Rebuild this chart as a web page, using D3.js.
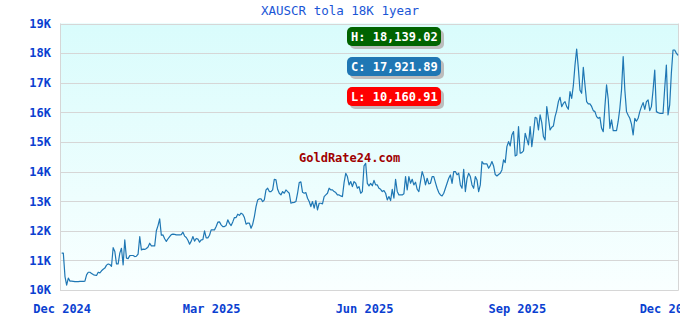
<!DOCTYPE html>
<html>
<head>
<meta charset="utf-8">
<script src="https://cdn.jsdelivr.net/npm/d3@7"></script>
<style>
  body { margin: 0; background: #fff; }
  svg { display: block; }
</style>
</head>
<body>
<div id="chart"></div>
<script>
// daily close, one value per day starting at firstDay
const firstDay = '2024-12-01';
const prices = [
  11245, 11245, 10455, 10161, 10400, 10300, 10300, 10290, 10280, 10280,
  10280, 10290, 10290, 10290, 10300, 10510, 10600, 10600, 10560, 10520,
  10500, 10490, 10600, 10580, 10650, 10700, 10740, 10840, 10880, 10860,
  10800, 11430, 11300, 10880, 10880, 11245, 11410, 10850, 11690, 11075,
  11060, 11160, 11165, 11165, 11130, 11140, 11210, 11800, 11355, 11380,
  11370, 11400, 11450, 11580, 11490, 11490, 11490, 12000, 12175, 12400,
  11850, 11860, 11730, 11640, 11730, 11800, 11870, 11885, 11880, 11862,
  11862, 11862, 11870, 11953, 11820, 11771, 11680, 11548, 11650, 11805,
  11650, 11740, 11720, 11616, 11690, 11700, 11997, 11760, 11760, 11850,
  12030, 12030, 12030, 12142, 12290, 12300, 12200, 12142, 12142, 12180,
  12368, 12250, 12175, 12300, 12446, 12446, 12560, 12520, 12593, 12560,
  12446, 12222, 12260, 12260, 12087, 12222, 12480, 12817, 13043, 13080,
  13080, 12986, 13043, 13380, 13437, 13324, 13324, 13380, 13740, 13718,
  13400, 13268, 13212, 13324, 13268, 13380, 13324, 13268, 12930, 12953,
  12960, 12987, 13268, 13628, 13650, 13300, 13268, 13290, 13100, 12987,
  12818, 12987, 12762, 13020, 12705, 12930, 12930, 12908, 13155, 13212,
  13268, 13437, 13380, 13380, 13324, 13290, 13212, 13212, 13178, 13155,
  13628, 13943, 13830, 13550, 13662, 13493, 13662, 13605, 13437, 13493,
  13268, 13324, 14190, 14280, 13600, 13515, 13600, 13520, 13700, 13549,
  13549, 13436, 13400, 13324, 13357, 13268, 13043, 13155, 13020, 13400,
  13099, 13740, 13330, 13211, 13211, 13211, 13250, 13830, 13380, 13830,
  13605, 13740, 13549, 13640, 13402, 13324, 13661, 13999, 13830, 13549,
  13774, 13582, 13605, 13830, 13830, 13627, 13436, 13290, 13211, 13178,
  13268, 13436, 13605, 13774, 13886, 13600, 13999, 13999, 13890, 13943,
  13549, 13436, 14077, 13324, 13760, 13943, 13830, 13549, 13436, 13830,
  13717, 13324, 13549, 14337, 14258, 14258, 14258, 14112, 14200, 14337,
  14190, 13900, 13850, 13900, 13943, 14056, 14393, 14303, 14843, 15012,
  14866, 15237, 15350, 14528, 14562, 15518, 14618, 14641, 14700, 15293,
  15100, 14900, 15518, 14843, 15300, 15833, 15799, 15406, 15912, 15653,
  15181, 15068, 16193, 15799, 15406, 15496, 15540, 15856, 16058, 16362,
  16508, 16193, 16300, 16362, 16193, 16103, 16699, 16474, 16900, 17600,
  18139.02, 17500, 16750, 16643, 17520, 16924, 16361, 16283, 16283, 16200,
  16058, 16024, 15855, 15799, 15830, 15461, 15349, 16193, 16924, 16440,
  15461, 15743, 15383, 15383, 15383, 15700, 16136, 16755, 17880, 16755,
  16024, 15900, 15799, 15600, 15236, 15799, 15700, 15799, 16024, 16193,
  16328, 16103, 16361, 16418, 16058, 16193, 16755, 17430, 16024, 15990,
  15968, 15968, 15968, 16811, 17599, 15911, 16249, 17318, 18105, 18105,
  18000, 17921.89
];

const yTicks = [10000, 11000, 12000, 13000, 14000, 15000, 16000, 17000, 18000, 19000];
const xTicks = ['2024-12-01', '2025-03-01', '2025-06-01', '2025-09-01', '2025-12-01'];

const badgeLabels = ['H', 'C', 'L'];
const badgeValues = [18139.02, 17921.89, 10160.91];

const chartTitle = 'XAUSCR tola 18K 1year';
const watermark = 'GoldRate24.com';

const width = 680;
const height = 320;
const plotLeft = 60, plotRight = 678, plotTop = 23.5, plotBottom = 290;
const mono = '"DejaVu Sans Mono", "Liberation Mono", monospace';

const parse = d3.utcParse('%Y-%m-%d');
const start = parse(firstDay);
const data = prices.map((v, i) => ({ date: d3.utcDay.offset(start, i), value: v }));

const x = d3.scaleUtc()
    .domain([d3.utcDay.offset(start, -1), d3.utcDay.offset(start, prices.length - 1)])
    .range([plotLeft, plotRight]);

const y = d3.scaleLinear()
    .domain([10000, 19000])
    .range([plotBottom, plotTop]);

const svg = d3.select('#chart').append('svg')
    .attr('width', width)
    .attr('height', height);

// plot background
const grad = svg.append('defs').append('linearGradient')
    .attr('id', 'bg')
    .attr('x1', 0).attr('y1', 0).attr('x2', 0).attr('y2', 1);
grad.append('stop').attr('offset', '0%').attr('stop-color', '#d9fcfc');
grad.append('stop').attr('offset', '100%').attr('stop-color', '#f9ffff');

svg.append('rect')
    .attr('x', plotLeft)
    .attr('y', plotTop)
    .attr('width', plotRight - plotLeft)
    .attr('height', plotBottom - plotTop)
    .attr('fill', 'url(#bg)');

// horizontal grid
svg.append('g')
    .selectAll('line')
    .data(yTicks)
    .join('line')
    .attr('x1', plotLeft)
    .attr('x2', plotRight)
    .attr('y1', d => Math.round(y(d)) + 0.5)
    .attr('y2', d => Math.round(y(d)) + 0.5)
    .attr('stroke', '#d6d6d6')
    .attr('stroke-width', 1);

// frame left / right / bottom
svg.append('path')
    .attr('d', `M${plotLeft + 0.5},${plotTop}V${plotBottom + 0.5}H${plotRight + 0.5}V${plotTop}`)
    .attr('fill', 'none')
    .attr('stroke', '#d6d6d6')
    .attr('stroke-width', 1);

// y axis labels
const yAxis = svg.append('g')
    .attr('transform', `translate(${plotLeft},0)`)
    .call(d3.axisLeft(y)
        .tickValues(yTicks)
        .tickSize(0)
        .tickPadding(9)
        .tickFormat(d => d / 1000 + 'K'));
yAxis.select('.domain').remove();
yAxis.selectAll('text')
    .attr('font-family', mono)
    .attr('font-size', 12)
    .attr('font-weight', 'bold')
    .attr('fill', '#0b3fd1');

// x axis labels
const xAxis = svg.append('g')
    .attr('transform', `translate(0,${plotBottom})`)
    .call(d3.axisBottom(x)
        .tickValues(xTicks.map(parse))
        .tickSize(0)
        .tickPadding(14)
        .tickFormat(d3.utcFormat('%b %Y')));
xAxis.select('.domain').remove();
xAxis.selectAll('text')
    .attr('font-family', mono)
    .attr('font-size', 12)
    .attr('font-weight', 'bold')
    .attr('fill', '#0b3fd1');

// watermark
svg.append('text')
    .attr('x', 299)
    .attr('y', 162)
    .attr('font-family', mono)
    .attr('font-size', 12)
    .attr('font-weight', 'bold')
    .attr('fill', '#a00000')
    .text(watermark);

// price line
const line = d3.line()
    .x(d => x(d.date))
    .y(d => y(d.value));

svg.append('path')
    .datum(data)
    .attr('d', line)
    .attr('fill', 'none')
    .attr('stroke', '#1f77b4')
    .attr('stroke-width', 1.2)
    .attr('stroke-linejoin', 'round');

// title
svg.append('text')
    .attr('x', 340)
    .attr('y', 15)
    .attr('text-anchor', 'middle')
    .attr('font-family', mono)
    .attr('font-size', 12.5)
    .attr('fill', '#1a56d6')
    .text(chartTitle);

// high / close / low badges
const badgeColors = ['#006400', '#1f77b4', '#ff0000'];
const fmt = d3.format(',.2f');
const badge = svg.append('g')
    .selectAll('g')
    .data(badgeLabels)
    .join('g')
    .attr('transform', (d, i) => `translate(347,${27 + i * 30})`);

badge.append('rect')
    .attr('x', 3).attr('y', 3)
    .attr('width', 94).attr('height', 19)
    .attr('rx', 5)
    .attr('fill', '#bdbdbd');

badge.append('rect')
    .attr('width', 94).attr('height', 19)
    .attr('rx', 5)
    .attr('fill', (d, i) => badgeColors[i]);

badge.append('text')
    .attr('x', 4)
    .attr('y', 14)
    .attr('font-family', mono)
    .attr('font-size', 12)
    .attr('font-weight', 'bold')
    .attr('fill', '#fff')
    .text((d, i) => `${d}: ${fmt(badgeValues[i])}`);
</script>
</body>
</html>
